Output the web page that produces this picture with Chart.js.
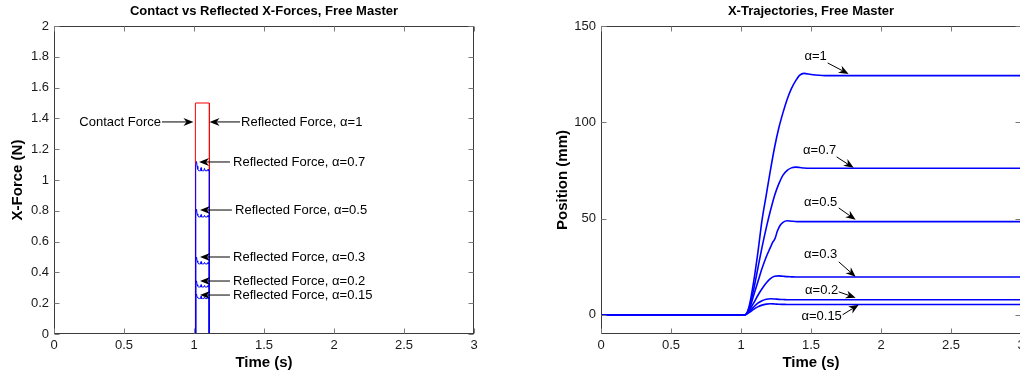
<!DOCTYPE html>
<html><head><meta charset="utf-8">
<script src="https://cdn.jsdelivr.net/npm/chart.js@4.4.0/dist/chart.umd.min.js"></script>
<style>
html,body{margin:0;padding:0;background:#fff;overflow:hidden;width:1020px;height:379px;position:relative;}
#c1{position:absolute;left:0;top:0;}
#c2{position:absolute;left:550px;top:0;}
</style></head><body>
<canvas id="c1" width="500" height="379"></canvas>
<canvas id="c2" width="490" height="379"></canvas>
<script>
// ---------- tick values / labels ----------
const timeTicks = [0, 0.5, 1, 1.5, 2, 2.5, 3];
const timeTickLabels = ['0', '0.5', '1', '1.5', '2', '2.5', '3'];
const forceTicks = [0, 0.2, 0.4, 0.6, 0.8, 1, 1.2, 1.4, 1.6, 1.8, 2];
const forceTickLabels = ['0', '0.2', '0.4', '0.6', '0.8', '1', '1.2', '1.4', '1.6', '1.8', '2'];
const posTicks = [0, 50, 100, 150];
const posTickLabels = ['0', '50', '100', '150'];

// ---------- left plot: forces ----------
const contactT = [0, 1.01, 1.01, 1.11, 1.11, 3];
const contactF = [0, 0, 1.5, 1.5, 0, 0];
const reflT   = [0, 1.01, 1.01, 1.014, 1.018, 1.022, 1.027, 1.033, 1.04, 1.046, 1.05, 1.054, 1.06, 1.07, 1.075, 1.08, 1.085, 1.095, 1.1, 1.105, 1.11, 1.11, 3];
const refl07  = [0, 0, 1.06, 1.1, 1.12, 1.09, 1.07, 1.06, 1.06, 1.06, 1.08, 1.06, 1.06, 1.06, 1.075, 1.06, 1.06, 1.06, 1.07, 1.06, 1.06, 0, 0];
const refl05  = [0, 0, 0.76, 0.79, 0.81, 0.78, 0.77, 0.76, 0.76, 0.76, 0.775, 0.76, 0.76, 0.76, 0.77, 0.76, 0.76, 0.76, 0.77, 0.76, 0.76, 0, 0];
const refl03  = [0, 0, 0.46, 0.48, 0.5, 0.475, 0.465, 0.455, 0.455, 0.455, 0.47, 0.455, 0.455, 0.455, 0.465, 0.455, 0.455, 0.455, 0.465, 0.455, 0.455, 0, 0];
const refl02  = [0, 0, 0.31, 0.33, 0.345, 0.32, 0.31, 0.305, 0.305, 0.305, 0.32, 0.305, 0.305, 0.305, 0.315, 0.305, 0.305, 0.305, 0.315, 0.305, 0.305, 0, 0];
const refl015 = [0, 0, 0.235, 0.25, 0.26, 0.24, 0.235, 0.23, 0.23, 0.23, 0.245, 0.23, 0.23, 0.23, 0.24, 0.23, 0.23, 0.23, 0.24, 0.23, 0.23, 0, 0];

// ---------- right plot: trajectories ----------
const trajT  = [0, 1.03, 1.06, 1.09, 1.12, 1.15, 1.18, 1.21, 1.24, 1.27, 1.30, 1.33, 1.36, 1.39, 1.42, 1.45, 1.5, 1.6, 3];
const pos1   = [0, 0, 5, 17, 32, 49, 62, 75, 87, 97, 105, 112, 117.5, 121.5, 124.5, 125.4, 124.8, 124.2, 124.2];
const pos07  = [0, 0, 4, 13, 24, 35, 45, 54, 62, 68, 72.5, 75, 76.3, 76.7, 76.5, 76.2, 76.1, 76.1, 76.1];
const pos05T = [0, 1.03, 1.06, 1.09, 1.12, 1.15, 1.18, 1.21, 1.225, 1.235, 1.245, 1.26, 1.28, 1.30, 1.33, 1.36, 1.4, 1.5, 3];
const pos05  = [0, 0, 3, 10, 17, 24, 30, 35, 37.5, 38.5, 40, 43.5, 46.5, 48, 48.8, 48.6, 48.4, 48.4, 48.4];
const pos03  = [0, 0, 2.5, 6, 10, 13.5, 16.5, 18.8, 20, 20.2, 20, 19.8, 19.7, 19.6, 19.6, 19.6, 19.6, 19.6, 19.6];
const pos02  = [0, 0, 1.8, 4, 6, 7.3, 8.1, 8.3, 8.2, 8, 7.9, 7.8, 7.8, 7.8, 7.8, 7.8, 7.8, 7.8, 7.8];
const pos015 = [0, 0, 1.2, 2.8, 4.1, 5, 5.5, 5.7, 5.6, 5.45, 5.4, 5.35, 5.35, 5.35, 5.35, 5.35, 5.35, 5.35, 5.35];

// ---------- annotations (data coordinates) ----------
const forceNotes = [
  {text: 'Contact Force', tx: 0.764, ty: 1.377, align: 'right', x0: 0.771, y0: 1.377, x1: 0.996, y1: 1.377},
  {text: 'Reflected Force, \u03B1=1', tx: 1.336, ty: 1.377, align: 'left', x0: 1.329, y0: 1.377, x1: 1.111, y1: 1.377},
  {text: 'Reflected Force, \u03B1=0.7', tx: 1.279, ty: 1.117, align: 'left', x0: 1.257, y0: 1.117, x1: 1.036, y1: 1.117},
  {text: 'Reflected Force, \u03B1=0.5', tx: 1.293, ty: 0.805, align: 'left', x0: 1.271, y0: 0.805, x1: 1.043, y1: 0.805},
  {text: 'Reflected Force, \u03B1=0.3', tx: 1.279, ty: 0.5, align: 'left', x0: 1.257, y0: 0.5, x1: 1.043, y1: 0.5},
  {text: 'Reflected Force, \u03B1=0.2', tx: 1.279, ty: 0.344, align: 'left', x0: 1.257, y0: 0.344, x1: 1.043, y1: 0.344},
  {text: 'Reflected Force, \u03B1=0.15', tx: 1.279, ty: 0.253, align: 'left', x0: 1.257, y0: 0.253, x1: 1.043, y1: 0.253}
];
const posNotes = [
  {text: '\u03B1=1', tx: 1.533, ty: 134.4, align: 'center', x0: 1.619, y0: 130.8, x1: 1.769, y1: 125.1},
  {text: '\u03B1=0.7', tx: 1.562, ty: 85.6, align: 'center', x0: 1.683, y0: 82.0, x1: 1.805, y1: 76.3},
  {text: '\u03B1=0.5', tx: 1.569, ty: 58.6, align: 'center', x0: 1.698, y0: 55.5, x1: 1.819, y1: 49.3},
  {text: '\u03B1=0.3', tx: 1.569, ty: 31.1, align: 'center', x0: 1.698, y0: 27.5, x1: 1.819, y1: 19.7},
  {text: '\u03B1=0.2', tx: 1.576, ty: 12.5, align: 'center', x0: 1.698, y0: 11.9, x1: 1.819, y1: 8.8},
  {text: '\u03B1=0.15', tx: 1.576, ty: -1.0, align: 'center', x0: 1.726, y0: 0, x1: 1.841, y1: 5.2}
];

const FONT = '"Liberation Sans", Arial, Helvetica, sans-serif';
const zip = (xs, ys) => xs.map((v, i) => ({x: v, y: ys[i]}));

const boxPlugin = {
  id: 'matlabBox',
  afterDatasetsDraw(chart) {
    const {ctx, chartArea: a, scales: {x, y}} = chart;
    ctx.save();
    ctx.strokeStyle = '#3c3c3c';
    ctx.lineWidth = 1;
    const L = Math.round(a.left) + 0.5, R = Math.round(a.right) - 0.5;
    const T = Math.round(a.top) + 0.5, B = Math.round(a.bottom) - 0.5;
    ctx.beginPath();
    ctx.rect(L, T, R - L, B - T);
    ctx.stroke();
    ctx.strokeStyle = '#7a7a7a';
    ctx.beginPath();
    x.ticks.forEach(t => {
      const p = Math.round(x.getPixelForValue(t.value)) + 0.5;
      ctx.moveTo(p, B); ctx.lineTo(p, B - 5);
      ctx.moveTo(p, T); ctx.lineTo(p, T + 5);
    });
    y.ticks.forEach(t => {
      const p = Math.round(y.getPixelForValue(t.value)) + 0.5;
      ctx.moveTo(L, p); ctx.lineTo(L + 5, p);
      ctx.moveTo(R, p); ctx.lineTo(R - 5, p);
    });
    ctx.stroke();
    ctx.restore();
  }
};

function notesPlugin(list) {
  return {
    id: 'notes',
    afterDraw(chart) {
      const {ctx, scales: {x, y}} = chart;
      ctx.save();
      ctx.font = '13px ' + FONT;
      ctx.fillStyle = '#000';
      ctx.strokeStyle = '#000';
      ctx.lineWidth = 1;
      list.forEach(n => {
        ctx.textAlign = n.align;
        ctx.textBaseline = 'middle';
        ctx.fillText(n.text, x.getPixelForValue(n.tx), y.getPixelForValue(n.ty));
        const x0 = x.getPixelForValue(n.x0), y0 = y.getPixelForValue(n.y0);
        const x1 = x.getPixelForValue(n.x1), y1 = y.getPixelForValue(n.y1);
        const ang = Math.atan2(y1 - y0, x1 - x0);
        const c = Math.cos(ang), s = Math.sin(ang);
        const HL = 10, HW = 4, NOTCH = 7;
        ctx.beginPath();
        ctx.moveTo(x0, y0);
        ctx.lineTo(x1 - NOTCH * c, y1 - NOTCH * s);
        ctx.stroke();
        const bx = x1 - HL * c, by = y1 - HL * s;
        ctx.beginPath();
        ctx.moveTo(x1, y1);
        ctx.lineTo(bx - HW * s, by + HW * c);
        ctx.lineTo(x1 - NOTCH * c, y1 - NOTCH * s);
        ctx.lineTo(bx + HW * s, by - HW * c);
        ctx.closePath();
        ctx.fill();
      });
      ctx.restore();
    }
  };
}

function axisCfg(ticksArr, labelsArr, min, max, title, isX, fitSize, titlePad) {
  return {
    type: 'linear', min, max,
    afterBuildTicks: s => { s.ticks = ticksArr.map(v => ({value: v})); },
    afterFit: s => { if (isX) s.height = fitSize; else s.width = fitSize; },
    ticks: {
      autoSkip: false, maxRotation: 0, padding: isX ? 4 : 5,
      color: '#1a1a1a', font: {family: FONT, size: 13},
      callback: (v, i) => labelsArr[i]
    },
    grid: {display: false, drawTicks: false, tickLength: 0},
    border: {display: false},
    title: {
      display: true, text: title, color: '#000',
      font: {family: FONT, size: 15, weight: 'bold'},
      padding: titlePad
    }
  };
}

function baseOptions(titleText, xs, ys, padRight) {
  return {
    responsive: false, animation: false,
    layout: {padding: {left: 0, right: padRight, top: 0, bottom: 0}},
    plugins: {
      legend: {display: false}, tooltip: {enabled: false},
      title: {
        display: true, text: titleText, fullSize: false, color: '#000',
        font: {family: FONT, size: 13, weight: 'bold'},
        padding: {top: 4, bottom: 6.4}
      }
    },
    elements: {point: {radius: 0}},
    scales: {x: xs, y: ys}
  };
}

const lineDs = (data, color, width, order, smooth) => ({
  data, borderColor: color, borderWidth: width, order,
  fill: false, pointRadius: 0, tension: 0,
  cubicInterpolationMode: smooth ? 'monotone' : 'default'
});

new Chart(document.getElementById('c1'), {
  type: 'line',
  data: {
    datasets: [
      lineDs(zip(contactT, contactF), '#ff0000', 1, 2, false),
      lineDs(zip(reflT, refl07), '#0000ff', 1, 0, false),
      lineDs(zip(reflT, refl05), '#0000ff', 1, 0, false),
      lineDs(zip(reflT, refl03), '#0000ff', 1, 0, false),
      lineDs(zip(reflT, refl02), '#0000ff', 1, 0, false),
      lineDs(zip(reflT, refl015), '#0000ff', 1, 0, false)
    ]
  },
  options: baseOptions('Contact vs Reflected X-Forces, Free Master',
    axisCfg(timeTicks, timeTickLabels, 0, 3, 'Time (s)', true, 45, {top: 0, bottom: 7}),
    axisCfg(forceTicks, forceTickLabels, 0, 2, 'X-Force (N)', false, 54, {top: 9, bottom: 0}),
    26),
  plugins: [boxPlugin, notesPlugin(forceNotes)]
});

new Chart(document.getElementById('c2'), {
  type: 'line',
  data: {
    datasets: [
      lineDs(zip(trajT, pos1), '#0000ff', 1.6, 0, true),
      lineDs(zip(trajT, pos07), '#0000ff', 1.6, 0, true),
      lineDs(zip(pos05T, pos05), '#0000ff', 1.6, 0, true),
      lineDs(zip(trajT, pos03), '#0000ff', 1.6, 0, true),
      lineDs(zip(trajT, pos02), '#0000ff', 1.6, 0, true),
      lineDs(zip(trajT, pos015), '#0000ff', 1.6, 0, true)
    ]
  },
  options: baseOptions('X-Trajectories, Free Master',
    axisCfg(timeTicks, timeTickLabels, 0, 3, 'Time (s)', true, 45, {top: 0, bottom: 7}),
    axisCfg(posTicks, posTickLabels, -10, 150, 'Position (mm)', false, 51, {top: 4, bottom: 0}),
    19),
  plugins: [boxPlugin, notesPlugin(posNotes)]
});
</script>
</body></html>
